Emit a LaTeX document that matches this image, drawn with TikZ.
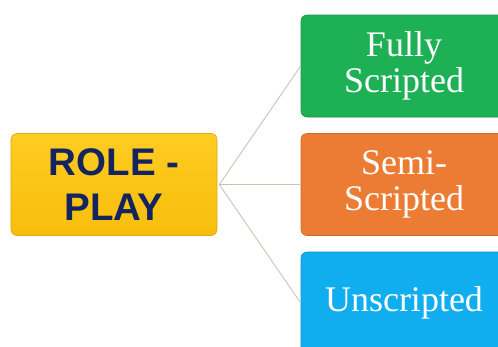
\documentclass[tikz,border=0pt]{standalone}
\usepackage{fontspec}
\setmainfont{Liberation Serif}
\newfontfamily\headfont{Liberation Sans}
\definecolor{rootfill}{HTML}{F7BE0C}
\definecolor{rootfilltop}{HTML}{FFCC22}
\definecolor{roottext}{HTML}{14245E}
\definecolor{greenfill}{HTML}{1DB054}
\definecolor{orangefill}{HTML}{EC7C33}
\definecolor{bluefill}{HTML}{10AEEE}
\definecolor{linkcol}{HTML}{CAC3B4}
\tikzset{
  box/.style={rounded corners=6bp, minimum width=206bp, minimum height=102bp,
    align=center, inner sep=0pt},
  rootbox/.style={box, top color=rootfilltop, bottom color=rootfill, draw=rootfill!90!black,
    line width=0.6bp, text=roottext,
    font=\headfont\bfseries\fontsize{38.5bp}{45bp}\selectfont},
  kindbox/.style={box, fill=#1, draw=#1!85!black, line width=0.6bp, text=white,
    font=\fontsize{36bp}{36bp}\selectfont},
  link/.style={draw=linkcol, line width=0.9bp}
}
\begin{document}
\begin{tikzpicture}[x=1bp, y=-1bp]
  \useasboundingbox (0,0) rectangle (498,346);
  \begin{scope}
    \clip (0,0) rectangle (498,346);
    \node[rootbox] (role) at (114,184.5) {ROLE -\\PLAY};
    \node[kindbox=greenfill] (fully) at (404,66) {Fully\\Scripted};
    \node[kindbox=orangefill] (semi) at (404,184.5) {Semi-\\Scripted};
    \node[kindbox=bluefill] (unscripted) at (404,303) {Unscripted};
    \draw[link] ([xshift=2bp]role.east) -- (fully.west);
    \draw[link] ([xshift=2bp]role.east) -- (semi.west);
    \draw[link] ([xshift=2bp]role.east) -- (unscripted.west);
  \end{scope}
\end{tikzpicture}
\end{document}
